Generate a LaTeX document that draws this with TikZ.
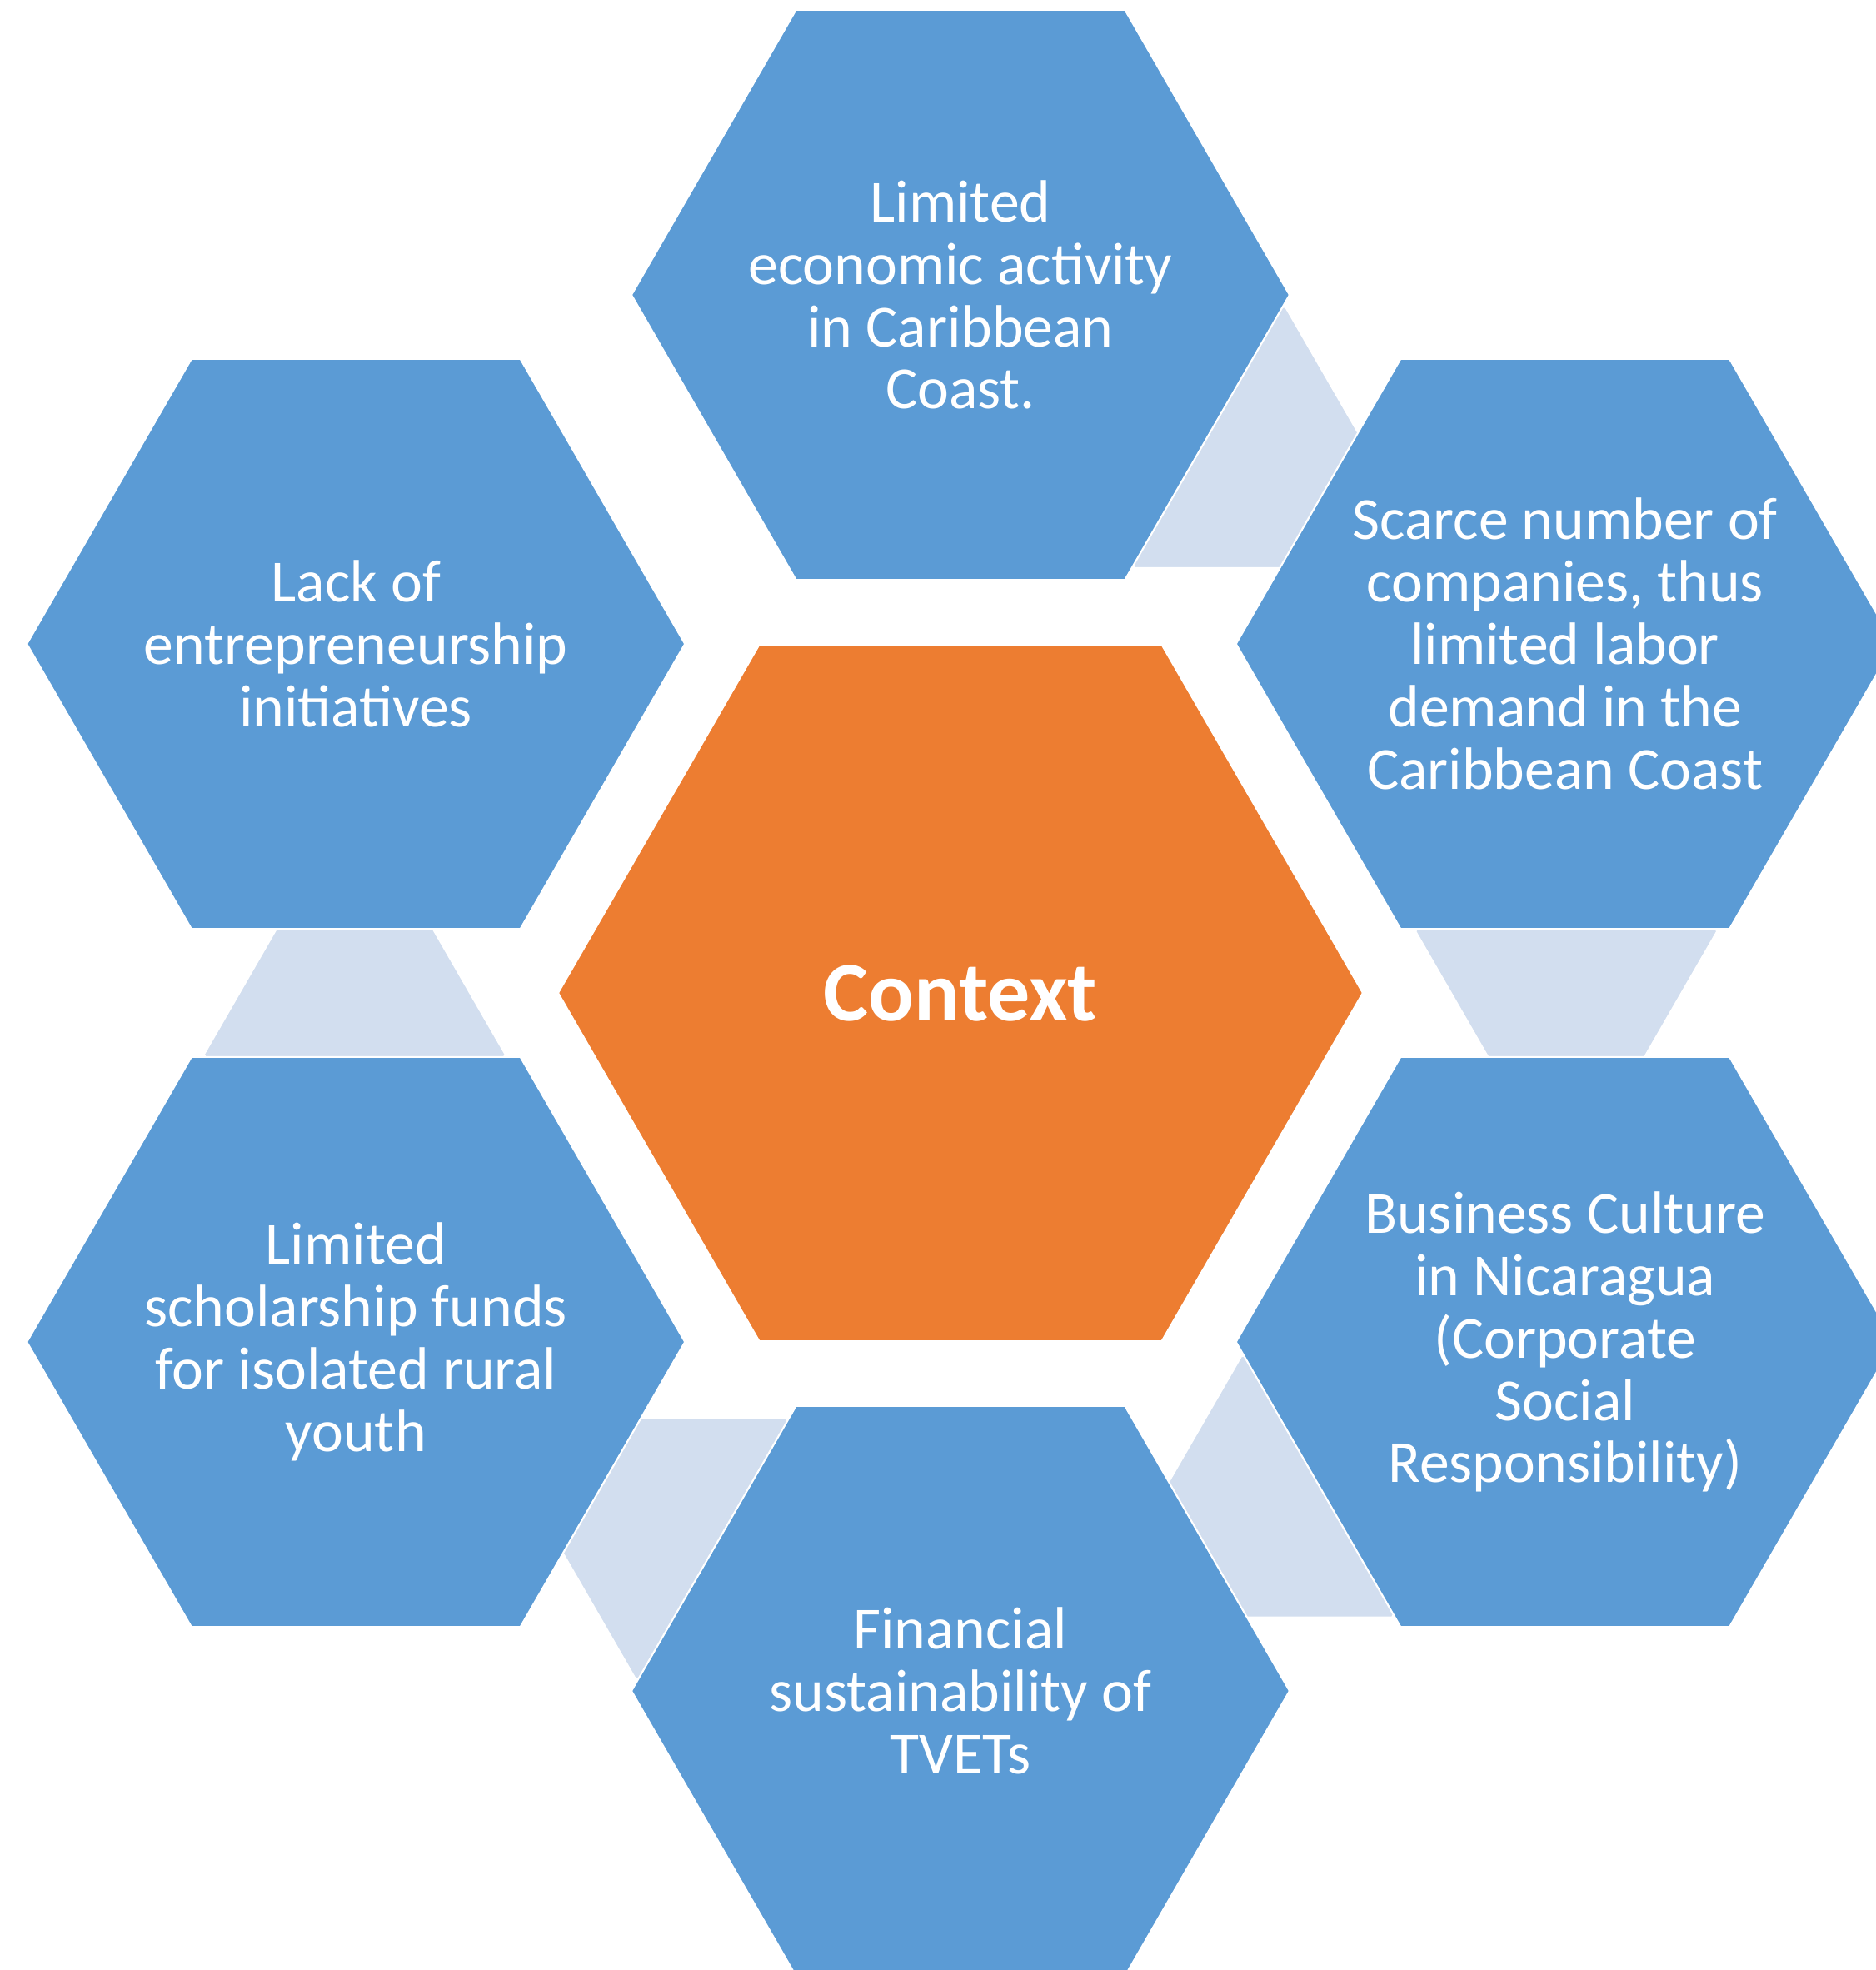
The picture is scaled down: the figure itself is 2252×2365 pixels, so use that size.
\documentclass[tikz,border=0pt]{standalone}
\usepackage{fontspec}
\setmainfont{Carlito}
\usepackage{tikz}
\usepackage{xcolor}
\definecolor{hexblue}{HTML}{5B9BD5}
\definecolor{hexorange}{HTML}{ED7D31}
\definecolor{hexlight}{HTML}{D2DEEF}

\begin{document}
\begin{tikzpicture}[x=0.01cm, y=0.01cm,
		hexline/.style={draw=white, line width=0.6pt},
		hextext/.style={text=white, align=center, inner sep=0, font=\fontsize{20.4}{21.3}\selectfont},
		ctxtext/.style={text=white, inner sep=0, font=\fontsize{29}{32}\selectfont\bfseries}]
	%% ========================================================
	\path[use as bounding box] (-1153,-1173) rectangle (1099,1192);
	\clip (-1153,-1173) rectangle (1099,1192);

	\begin{scope}% small hexagons in between
		\def\rs{181}
		\def\ring{731}
		\foreach \a in {65.8, 5.8, -54.2, -114.2, 185.8}{
			\fill[hexlight, hexline] (\a:\ring) +(0:\rs) -- +(60:\rs) -- +(120:\rs) -- +(180:\rs) -- +(240:\rs) -- +(300:\rs) -- cycle;
		}
	\end{scope}

	\begin{scope}% outer hexagons
		\def\R{395}
		\def\ring{838}
		\foreach \a in {90, 30, -30, -90, -150, 150}{
			\fill[hexblue, hexline] (\a:\ring) +(0:\R) -- +(60:\R) -- +(120:\R) -- +(180:\R) -- +(240:\R) -- +(300:\R) -- cycle;
		}

		\node[hextext] (econ) at (90:\ring) {Limited\\economic activity\\in Caribbean\\Coast.};
		\node[hextext] (firms) at (30:\ring) {Scarce number of\\companies, thus\\limited labor\\demand in the\\Caribbean Coast};
		\node[hextext] (csr) at (-30:\ring) {Business Culture\\in Nicaragua\\(Corporate\\Social\\Responsibility)};
		\node[hextext] (tvet) at (-90:\ring) {Financial\\sustainability of\\TVETs};
		\node[hextext] (funds) at (-150:\ring) {Limited\\scholarship funds\\for isolated rural\\youth};
		\node[hextext] (entre) at (150:\ring) {Lack of\\entrepreneurship\\initiatives};
	\end{scope}

	% centre
	\fill[hexorange, hexline] (0,0) +(0:483) -- +(60:483) -- +(120:483) -- +(180:483) -- +(240:483) -- +(300:483) -- cycle;
	\node[ctxtext] (ctx) at (0,0) {Context};
	%% ========================================================
\end{tikzpicture}
\end{document}
